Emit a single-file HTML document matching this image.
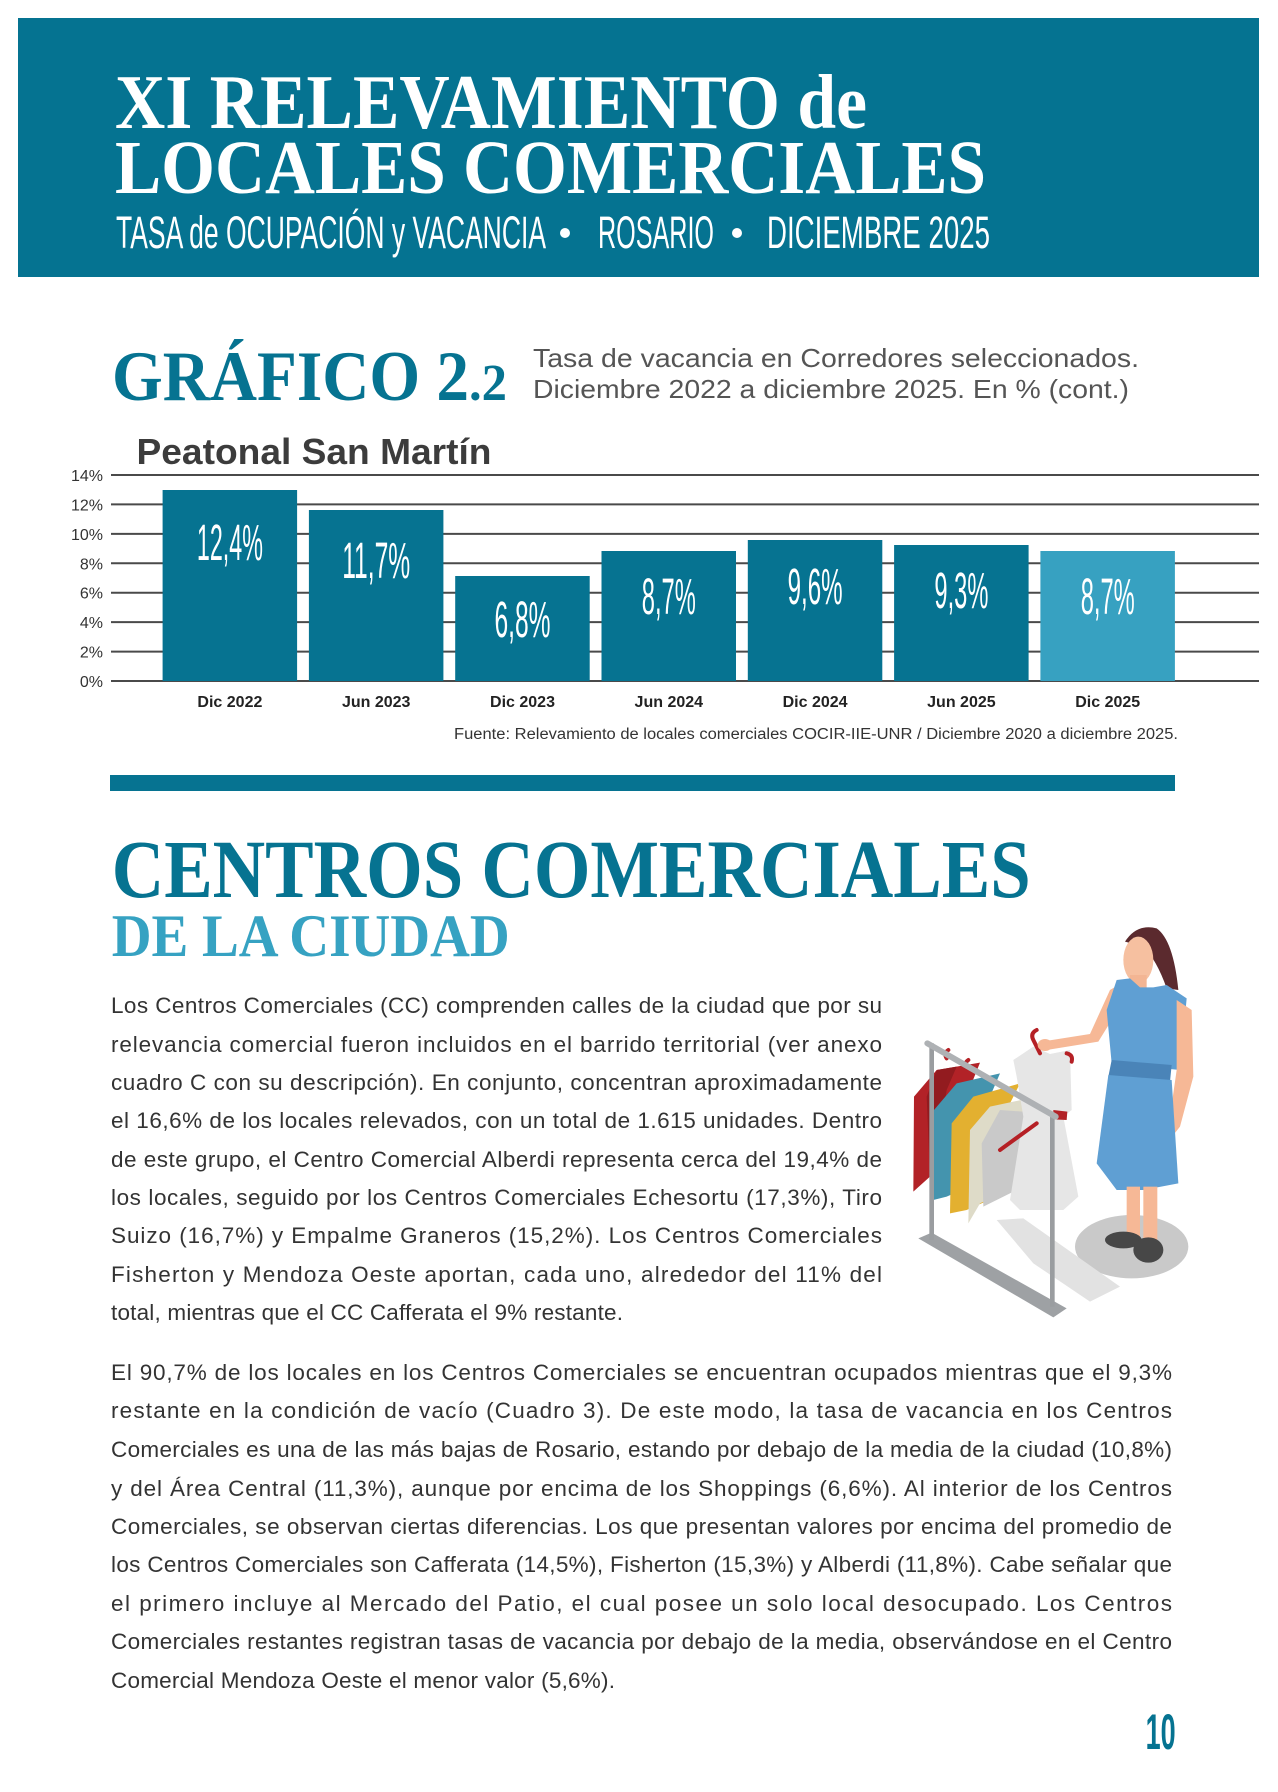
<!DOCTYPE html>
<html><head><meta charset="utf-8"><style>
html,body{margin:0;padding:0;background:#fff;}
svg{display:block;}
</style></head><body>
<svg xmlns="http://www.w3.org/2000/svg" width="1278" height="1792" viewBox="0 0 1278 1792">
<rect x="0" y="0" width="1278" height="1792" fill="#fff"/>
<!-- Header banner -->
<rect x="18" y="18" width="1241" height="259" fill="#057391"/>
<g font-family="'Liberation Serif', serif" font-weight="bold" fill="#fff">
<text x="115" y="128" font-size="77" textLength="752" lengthAdjust="spacingAndGlyphs">XI RELEVAMIENTO de</text>
<text x="115" y="193" font-size="76" textLength="871" lengthAdjust="spacingAndGlyphs">LOCALES COMERCIALES</text>
</g>
<g font-family="'Liberation Sans', sans-serif" fill="#fff" font-size="45">
<text x="116" y="248" textLength="430" lengthAdjust="spacingAndGlyphs">TASA de OCUPACIÓN y VACANCIA</text>
<text x="598" y="248" textLength="116" lengthAdjust="spacingAndGlyphs">ROSARIO</text>
<text x="767" y="248" textLength="223" lengthAdjust="spacingAndGlyphs">DICIEMBRE 2025</text>
</g>
<circle cx="565" cy="233" r="5" fill="#fff"/>
<circle cx="737" cy="233" r="5" fill="#fff"/>

<!-- Grafico title -->
<g font-family="'Liberation Serif', serif" font-weight="bold" fill="#067391">
<text x="112" y="400" font-size="71" textLength="357" lengthAdjust="spacingAndGlyphs">GRÁFICO 2</text>
<text x="469" y="400" font-size="52" textLength="38" lengthAdjust="spacingAndGlyphs">.2</text>
</g>
<g font-family="'Liberation Sans', sans-serif" fill="#555" font-size="26">
<text x="533" y="367" textLength="606" lengthAdjust="spacingAndGlyphs">Tasa de vacancia en Corredores seleccionados.</text>
<text x="533" y="398" textLength="596" lengthAdjust="spacingAndGlyphs">Diciembre 2022 a diciembre 2025. En % (cont.)</text>
</g>
<text x="136.5" y="464" font-family="'Liberation Sans', sans-serif" font-weight="bold" font-size="36" fill="#3c3c3c" textLength="355" lengthAdjust="spacingAndGlyphs">Peatonal San Martín</text>

<!-- Gridlines -->
<g stroke="#4a4a4a" stroke-width="2">
<line x1="111" y1="475" x2="1259" y2="475"/>
<line x1="111" y1="504.4" x2="1259" y2="504.4"/>
<line x1="111" y1="533.9" x2="1259" y2="533.9"/>
<line x1="111" y1="563.3" x2="1259" y2="563.3"/>
<line x1="111" y1="592.7" x2="1259" y2="592.7"/>
<line x1="111" y1="622.1" x2="1259" y2="622.1"/>
<line x1="111" y1="651.6" x2="1259" y2="651.6"/>
<line x1="111" y1="681" x2="1259" y2="681"/>
</g>
<g font-family="'Liberation Sans', sans-serif" font-size="16" fill="#333" text-anchor="end">
<text x="103" y="481">14%</text>
<text x="103" y="510.4">12%</text>
<text x="103" y="539.9">10%</text>
<text x="103" y="569.3">8%</text>
<text x="103" y="598.7">6%</text>
<text x="103" y="628.1">4%</text>
<text x="103" y="657.6">2%</text>
<text x="103" y="687">0%</text>
</g>
<!-- Bars -->
<g fill="#067391">
<rect x="162.6" y="490" width="134.5" height="191"/>
<rect x="308.9" y="510" width="134.5" height="171"/>
<rect x="455.2" y="576" width="134.5" height="105"/>
<rect x="601.5" y="551" width="134.5" height="130"/>
<rect x="747.8" y="540" width="134.5" height="141"/>
<rect x="894.1" y="545" width="134.5" height="136"/>
</g>
<rect x="1040.4" y="551" width="134.5" height="130" fill="#37a1c1"/>
<g font-family="'Liberation Sans', sans-serif" font-size="51" fill="#fff">
<text x="196.9" y="560" textLength="66" lengthAdjust="spacingAndGlyphs">12,4%</text>
<text x="342.2" y="578" textLength="68" lengthAdjust="spacingAndGlyphs">11,7%</text>
<text x="494.5" y="637" textLength="56" lengthAdjust="spacingAndGlyphs">6,8%</text>
<text x="641.8" y="614" textLength="54" lengthAdjust="spacingAndGlyphs">8,7%</text>
<text x="787.6" y="604" textLength="55" lengthAdjust="spacingAndGlyphs">9,6%</text>
<text x="934.4" y="608" textLength="54" lengthAdjust="spacingAndGlyphs">9,3%</text>
<text x="1080.7" y="614" textLength="54" lengthAdjust="spacingAndGlyphs">8,7%</text>
</g>
<g font-family="'Liberation Sans', sans-serif" font-size="16" font-weight="bold" fill="#222" text-anchor="middle">
<text x="229.9" y="707">Dic 2022</text>
<text x="376.2" y="707">Jun 2023</text>
<text x="522.5" y="707">Dic 2023</text>
<text x="668.8" y="707">Jun 2024</text>
<text x="815.1" y="707">Dic 2024</text>
<text x="961.4" y="707">Jun 2025</text>
<text x="1107.7" y="707">Dic 2025</text>
</g>
<text x="454" y="739" font-family="'Liberation Sans', sans-serif" font-size="15.5" fill="#333" textLength="724" lengthAdjust="spacingAndGlyphs">Fuente: Relevamiento de locales comerciales COCIR-IIE-UNR / Diciembre 2020 a diciembre 2025.</text>

<rect x="110" y="775" width="1065" height="16" fill="#067391"/>

<!-- Section heading -->
<g font-family="'Liberation Serif', serif" font-weight="bold">
<text x="111.7" y="897" font-size="83" fill="#067391" textLength="919" lengthAdjust="spacingAndGlyphs">CENTROS COMERCIALES</text>
<text x="111.7" y="956" font-size="60" fill="#36a2c2" textLength="398" lengthAdjust="spacingAndGlyphs">DE LA CIUDAD</text>
</g>

<!-- Paragraph 1 -->
<g font-family="'Liberation Sans', sans-serif" font-size="22.5" fill="#333">
<text x="111" y="1013" textLength="771" lengthAdjust="spacing">Los Centros Comerciales (CC) comprenden calles de la ciudad que por su</text>
<text x="111" y="1052" textLength="771" lengthAdjust="spacing">relevancia comercial fueron incluidos en el barrido territorial (ver anexo</text>
<text x="111" y="1090" textLength="771" lengthAdjust="spacing">cuadro C con su descripción). En conjunto, concentran aproximadamente</text>
<text x="111" y="1128" textLength="771" lengthAdjust="spacing">el 16,6% de los locales relevados, con un total de 1.615 unidades. Dentro</text>
<text x="111" y="1167" textLength="771" lengthAdjust="spacing">de este grupo, el Centro Comercial Alberdi representa cerca del 19,4% de</text>
<text x="111" y="1205" textLength="771" lengthAdjust="spacing">los locales, seguido por los Centros Comerciales Echesortu (17,3%), Tiro</text>
<text x="111" y="1243" textLength="771" lengthAdjust="spacing">Suizo (16,7%) y Empalme Graneros (15,2%). Los Centros Comerciales</text>
<text x="111" y="1282" textLength="771" lengthAdjust="spacing">Fisherton y Mendoza Oeste aportan, cada uno, alrededor del 11% del</text>
<text x="111" y="1320" textLength="512" lengthAdjust="spacing">total, mientras que el CC Cafferata el 9% restante.</text>
</g>

<!-- Paragraph 2 -->
<g font-family="'Liberation Sans', sans-serif" font-size="22.5" fill="#333">
<text x="111" y="1380" textLength="1061" lengthAdjust="spacing">El 90,7% de los locales en los Centros Comerciales se encuentran ocupados mientras que el 9,3%</text>
<text x="111" y="1418" textLength="1061" lengthAdjust="spacing">restante en la condición de vacío (Cuadro 3). De este modo, la tasa de vacancia en los Centros</text>
<text x="111" y="1457" textLength="1061" lengthAdjust="spacing">Comerciales es una de las más bajas de Rosario, estando por debajo de la media de la ciudad (10,8%)</text>
<text x="111" y="1496" textLength="1061" lengthAdjust="spacing">y del Área Central (11,3%), aunque por encima de los Shoppings (6,6%). Al interior de los Centros</text>
<text x="111" y="1534" textLength="1061" lengthAdjust="spacing">Comerciales, se observan ciertas diferencias. Los que presentan valores por encima del promedio de</text>
<text x="111" y="1572" textLength="1061" lengthAdjust="spacing">los Centros Comerciales son Cafferata (14,5%), Fisherton (15,3%) y Alberdi (11,8%). Cabe señalar que</text>
<text x="111" y="1611" textLength="1061" lengthAdjust="spacing">el primero incluye al Mercado del Patio, el cual posee un solo local desocupado. Los Centros</text>
<text x="111" y="1649" textLength="1061" lengthAdjust="spacing">Comerciales restantes registran tasas de vacancia por debajo de la media, observándose en el Centro</text>
<text x="111" y="1688" textLength="504" lengthAdjust="spacing">Comercial Mendoza Oeste el menor valor (5,6%).</text>
</g>

<!-- Page number -->
<text x="1145.6" y="1749" font-family="'Liberation Sans', sans-serif" font-weight="bold" font-size="50" fill="#067391" textLength="30" lengthAdjust="spacingAndGlyphs">10</text>

<!-- Illustration -->
<g transform="translate(890,910) scale(0.33333)">
  <ellipse cx="725" cy="1010" rx="170" ry="95" fill="#c9c9c9"/>
  <polygon points="320,930 400,925 690,1130 600,1175 430,1060" fill="#e2e2e2"/>
  <polygon points="85,985 125,968 530,1195 490,1222" fill="#9ea1a4"/>
  <polygon points="140,480 270,458 245,520 210,780 120,800 70,845 72,560" fill="#b22227"/>
  <polygon points="140,480 200,470 170,540 130,800 120,800 110,560" fill="#921b1f"/>
  <polygon points="200,520 330,490 300,560 260,820 170,860 130,870 132,600" fill="#4494ae"/>
  <polygon points="250,560 390,520 350,600 320,860 230,900 180,910 185,640" fill="#e3b030"/>
  <polygon points="300,590 440,560 430,800 270,880 235,940 240,660" fill="#dedbc8"/>
  <polygon points="330,600 470,610 460,800 280,890 275,700" fill="#c9c9c9"/>
  <polygon points="370,450 430,410 480,432 540,420 545,600 520,620 565,860 520,900 390,900 360,870 400,620 380,500" fill="#e6e6e6"/>
  <polygon points="490,600 532,605 530,630 490,628" fill="#b22227"/>
  <g stroke="#b52025" stroke-width="12" fill="none" stroke-linecap="round">
    <path d="M330,720 L440,640"/>
    <path d="M440,360 q-20,10 -10,30 q10,20 20,40"/>
    <path d="M175,420 q-15,10 -5,25"/>
    <path d="M235,450 q-15,10 -5,25"/>
    <path d="M530,430 q20,5 15,25"/>
  </g>
  <rect x="118" y="400" width="14" height="590" fill="#9a9da0"/>
  <rect x="480" y="615" width="14" height="575" fill="#9a9da0"/>
  <line x1="112" y1="400" x2="497" y2="620" stroke="#aeb1b4" stroke-width="18" stroke-linecap="round"/>
  <path d="M705,95 Q740,40 800,55 Q850,90 865,240 L830,235 Q800,150 760,110 Z" fill="#5b2a2e"/>
  <ellipse cx="745" cy="150" rx="45" ry="70" fill="#f6c0a0"/>
  <rect x="720" y="195" width="50" height="45" fill="#f3b593"/>
  <polygon points="685,225 705,265 625,395 470,420 455,395 600,372 660,240" fill="#f6b896"/>
  <ellipse cx="465" cy="405" rx="22" ry="18" fill="#f6b896"/>
  <polygon points="680,210 720,205 750,232 790,232 830,225 890,265 870,480 665,460 650,300" fill="#5f9fd3"/>
  <polygon points="860,270 905,300 910,500 870,650 830,700 790,690 840,620 860,480" fill="#f6b896"/>
  <polygon points="665,450 845,465 840,515 655,500" fill="#4a84b8"/>
  <polygon points="655,495 845,510 865,820 760,840 680,840 620,760" fill="#5f9fd3"/>
  <rect x="710" y="830" width="40" height="150" fill="#f6b896"/>
  <rect x="760" y="830" width="42" height="170" fill="#f6b896"/>
  <ellipse cx="700" cy="990" rx="55" ry="25" fill="#474747"/>
  <ellipse cx="775" cy="1020" rx="45" ry="38" fill="#474747"/>
</g>
</svg>
</body></html>
